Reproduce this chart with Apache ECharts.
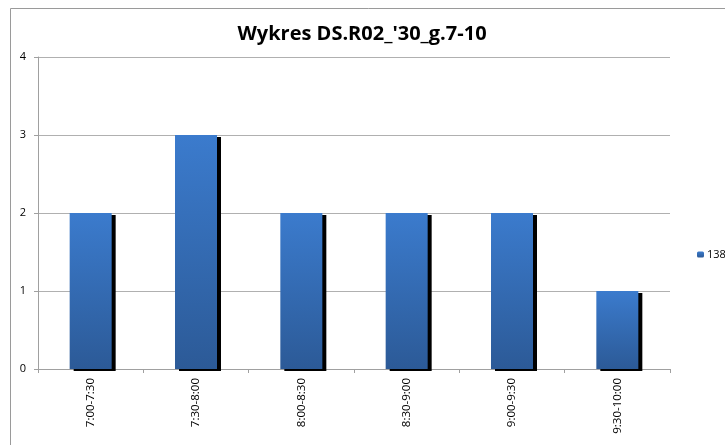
<!DOCTYPE html>
<html>
<head>
<meta charset="utf-8">
<script src="https://cdn.jsdelivr.net/npm/echarts@6/dist/echarts.min.js"></script>
<style>
  html, body { margin: 0; padding: 0; background: #fff; }
  #chart { width: 725px; height: 445px; }
</style>
</head>
<body>
<div id="chart"></div>
<script>
const chartTitle = "Wykres DS.R02_'30_g.7-10";
const categories = ['7:00-7:30', '7:30-8:00', '8:00-8:30', '8:30-9:00', '9:00-9:30', '9:30-10:00'];
const seriesName = '138';
const values = [2, 3, 2, 2, 2, 1];
const yTicks = { min: 0, max: 4, interval: 1 };

let chart = echarts.init(document.getElementById('chart'));
let option = {
    animation: false,
    textStyle: { fontFamily: 'Open Sans, Liberation Sans, sans-serif' },
    title: {
        text: chartTitle,
        left: 357,
        textAlign: 'center',
        top: 19,
        textStyle: { fontSize: 20, fontWeight: 'bold', color: '#000' }
    },
    graphic: [{
        type: 'rect',
        shape: { x: 10.5, y: 8.5, width: 740, height: 460 },
        style: { fill: null, stroke: '#9a9a9a', lineWidth: 1 },
        silent: true
    }],
    legend: {
        data: [seriesName],
        left: 692,
        top: 244,
        itemWidth: 7,
        itemHeight: 6,
        itemGap: 4,
        textStyle: { fontSize: 11, color: '#000', padding: [0, 0, 0, -2] }
    },
    grid: { left: 38, top: 57, width: 632, height: 312 },
    xAxis: {
        type: 'category',
        data: categories,
        axisLine: { lineStyle: { color: '#a0a0a0' } },
        axisTick: { show: true, lineStyle: { color: '#a0a0a0' }, length: 4 },
        axisLabel: { rotate: 90, fontSize: 11.5, color: '#000', margin: 9 }
    },
    yAxis: {
        type: 'value',
        min: yTicks.min,
        max: yTicks.max,
        interval: yTicks.interval,
        axisLine: { show: true, lineStyle: { color: '#a0a0a0' } },
        axisTick: { show: true, lineStyle: { color: '#a0a0a0' }, length: 4 },
        axisLabel: { fontSize: 11, color: '#000', margin: 12 },
        splitLine: { lineStyle: { color: '#b0b0b0', width: 1 } }
    },
    series: [{
        type: 'bar',
        name: seriesName,
        data: values,
        barWidth: 42,
        itemStyle: {
            color: new echarts.graphic.LinearGradient(0, 0, 0, 1, [
                { offset: 0, color: '#3b7bcd' },
                { offset: 1, color: '#2c5a97' }
            ]),
            shadowColor: '#000',
            shadowBlur: 0,
            shadowOffsetX: 4,
            shadowOffsetY: 2
        }
    }]
};
chart.setOption(option);
</script>
</body>
</html>
